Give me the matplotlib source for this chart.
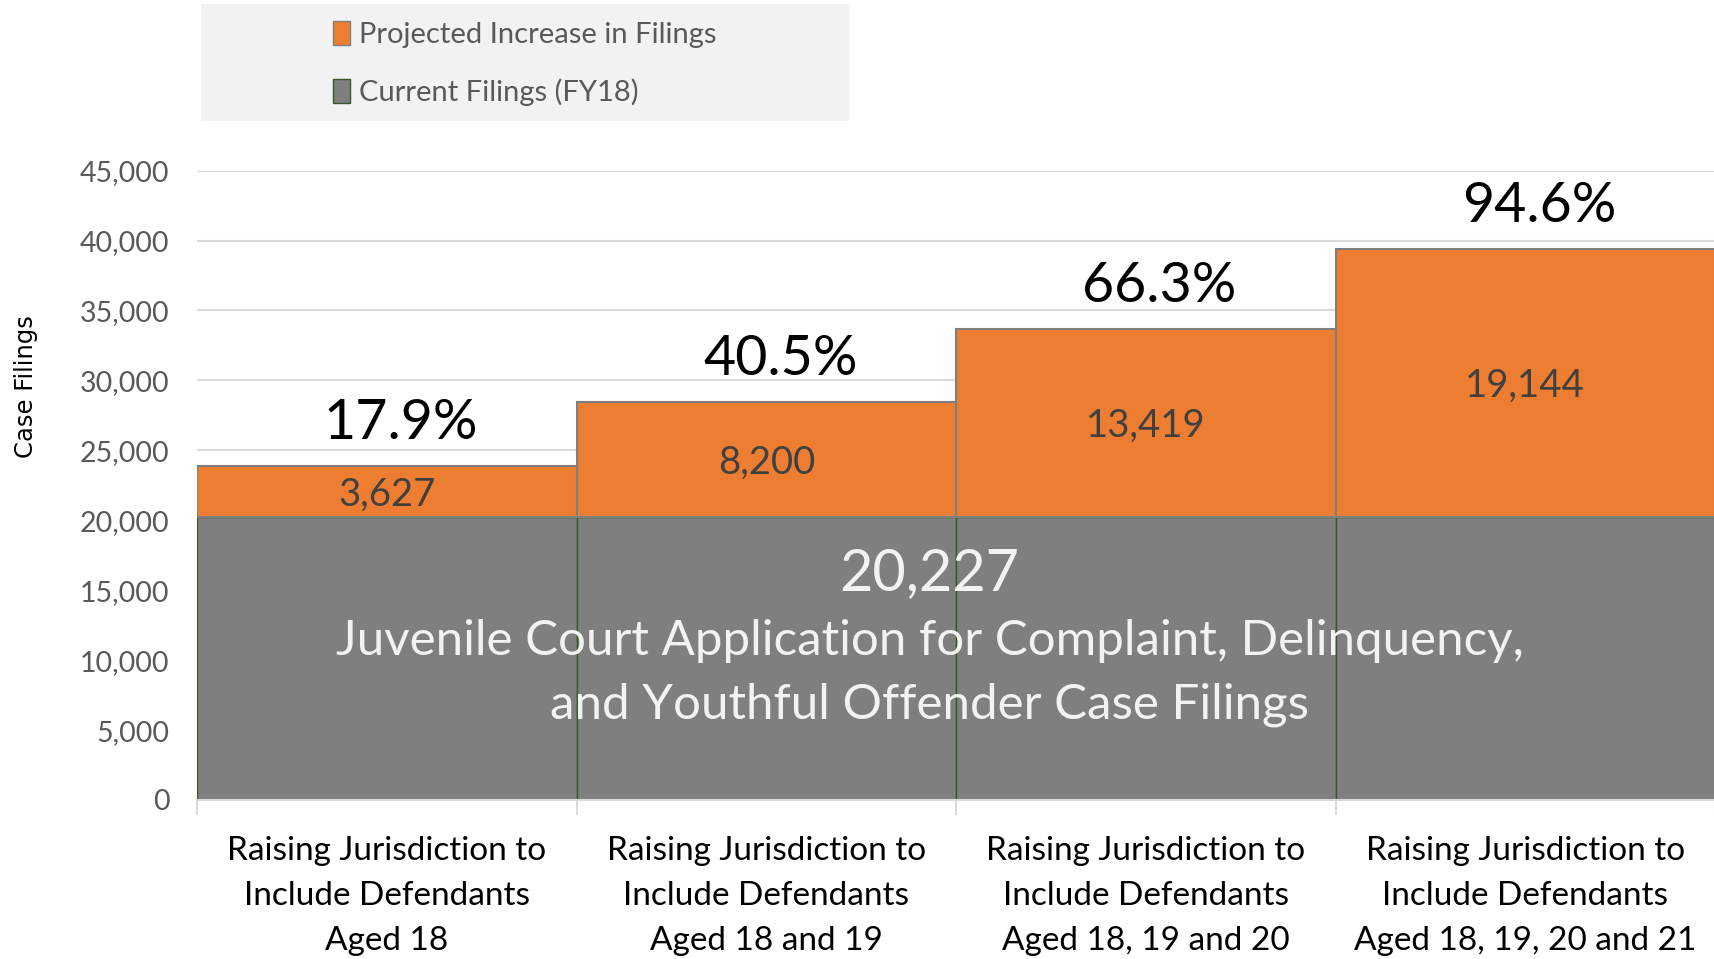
import numpy as np
import matplotlib.pyplot as plt
from matplotlib.patches import Rectangle

categories = ["Raising Jurisdiction to\nInclude Defendants\nAged 18",
              "Raising Jurisdiction to\nInclude Defendants\nAged 18 and 19",
              "Raising Jurisdiction to\nInclude Defendants\nAged 18, 19 and 20",
              "Raising Jurisdiction to\nInclude Defendants\nAged 18, 19, 20 and 21"]
current = [20227, 20227, 20227, 20227]
increase = [3627, 8200, 13419, 19144]
yticks = [0, 5000, 10000, 15000, 20000, 25000, 30000, 35000, 40000, 45000]

plt.rcParams['font.family'] = ['Lato', 'DejaVu Sans']

fig = plt.figure(figsize=(17.15, 9.59), dpi=100)
ax = fig.add_axes([0.1149, 0.1658, 0.8851, 0.6563])

x = np.arange(len(categories)) + 0.5
ax.bar(x, current, width=1.0, color='#7f7f7f', edgecolor='#385723', linewidth=1, zorder=2)
ax.bar(x, increase, bottom=current, width=1.0, color='#ed7d31', edgecolor='#7f7f7f',
       linewidth=1.5, zorder=2)

# segment labels
for xi, c, inc in zip(x, current, increase):
    ax.annotate('{:,}'.format(inc), (xi, c + inc / 2), xytext=(0, -2),
                textcoords='offset points', ha='center', va='center',
                fontsize=27.5, color='#404040', zorder=3)
    ax.annotate('{:.1f}%'.format(inc / c * 100), (xi, c + inc), xytext=(10, 31),
                textcoords='offset points', ha='center', va='center',
                fontsize=40, color='black', zorder=3)

ax.text(1.93, 16200, '{:,}'.format(current[0]), ha='center', va='center',
        fontsize=41.5, color='#f2f2f2', zorder=3)
ax.text(1.93, 9100, 'Juvenile Court Application for Complaint, Delinquency,\n'
        'and Youthful Offender Case Filings', ha='center', va='center',
        fontsize=35.5, color='#f2f2f2', linespacing=1.53, zorder=3)

ax.set_xlim(0, 4)
ax.set_ylim(0, 45000)
ax.set_yticks(yticks)
ax.set_yticklabels(['{:,}'.format(v) for v in yticks], fontsize=20.5, color='#595959')
ax.tick_params(axis='y', length=0, pad=20)
ax.yaxis.grid(True, color='#d9d9d9', linewidth=1.5, zorder=0)
ax.set_axisbelow(True)

ax.set_xticks([0, 1, 2, 3, 4])
ax.set_xticklabels([])
ax.set_xticks(x, minor=True)
ax.set_xticklabels(categories, minor=True, fontsize=24, linespacing=1.62)
ax.tick_params(axis='x', which='major', length=11, color='#d9d9d9', width=1.5)
ax.tick_params(axis='x', which='minor', length=0, pad=26)

for s in ['top', 'right', 'left']:
    ax.spines[s].set_visible(False)
ax.spines['bottom'].set_color('#d9d9d9')
ax.spines['bottom'].set_linewidth(1.5)

fig.text(0.015, 0.597, 'Case Filings', rotation=90, ha='center', va='center',
         fontsize=17.5, family='DejaVu Sans')

# legend
fig.patches.append(Rectangle((201 / 1715, 1 - 121 / 959), 648 / 1715, 117 / 959,
                             transform=fig.transFigure, facecolor='#f2f2f2',
                             edgecolor='none', zorder=0))
h1 = Rectangle((0, 0), 1, 1, facecolor='#ed7d31', edgecolor='#7f7f7f')
h2 = Rectangle((0, 0), 1, 1, facecolor='#7f7f7f', edgecolor='#385723')
fig.legend([h1, h2], ['Projected Increase in Filings', 'Current Filings (FY18)'],
           loc='upper left', bbox_to_anchor=(321 / 1715, 1 - 9 / 959), frameon=False,
           fontsize=21, labelcolor='#595959', handlelength=0.6, handleheight=0.9,
           handletextpad=0.3, labelspacing=1.05, borderaxespad=0)

fig.savefig('out.png', dpi=100)
